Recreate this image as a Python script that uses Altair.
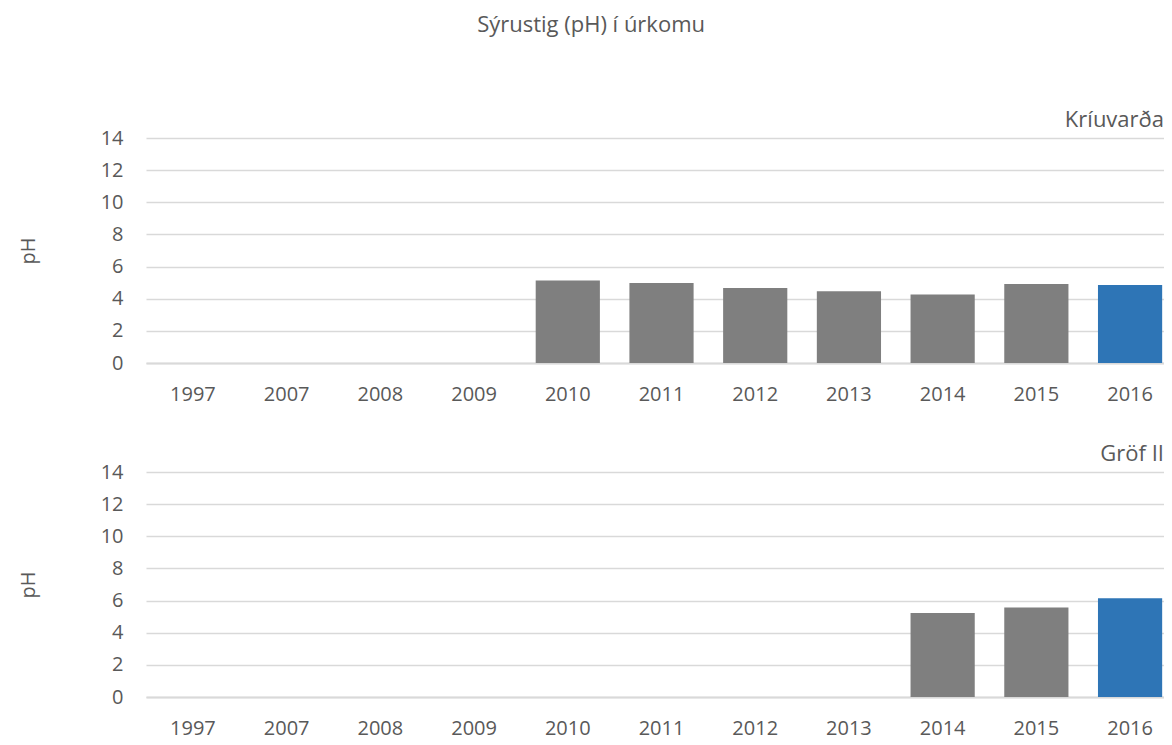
import altair as alt
import pandas as pd

years = ["1997", "2007", "2008", "2009", "2010", "2011", "2012", "2013", "2014", "2015", "2016"]
kriuvarda_ph = [None, None, None, None, 5.13, 4.98, 4.67, 4.46, 4.27, 4.92, 4.86]
grof_ph = [None, None, None, None, None, None, None, None, 5.22, 5.57, 6.14]
stations = ["Kríuvarða", "Gröf II"]
main_title = "Sýrustig (pH) í úrkomu"
y_ticks = [0, 2, 4, 6, 8, 10, 12, 14]

GRAY = "#7f7f7f"
BLUE = "#2e75b6"
TEXT = "#595959"
FONT = "Open Sans"


def panel(name, vals):
    df = pd.DataFrame({
        "year": years,
        "ph": vals,
        "col": [BLUE if y == "2016" else GRAY for y in years],
    })
    return (
        alt.Chart(
            df,
            title=alt.TitleParams(
                name, anchor="end", fontSize=22, color=TEXT, font=FONT,
                fontWeight="normal", offset=-4,
            ),
        )
        .mark_bar()
        .encode(
            x=alt.X(
                "year:N",
                sort=years,
                scale=alt.Scale(domain=years, paddingInner=0.315, paddingOuter=0.089, align=0.89),
                axis=alt.Axis(
                    title=None, labelAngle=0, ticks=False, tickSize=0, labelPadding=21,
                    domain=True, domainColor="#d9d9d9", domainWidth=2,
                    labelFontSize=20, labelColor=TEXT, labelFont=FONT, grid=False,
                ),
            ),
            y=alt.Y(
                "ph:Q",
                scale=alt.Scale(domain=[0, 14], nice=False),
                axis=alt.Axis(
                    values=y_ticks, title="pH", titleFontSize=20, titleColor=TEXT,
                    titleFont=FONT, titleFontWeight="normal", titlePadding=62,
                    ticks=False, tickSize=0, labelPadding=23, domain=False,
                    labelFontSize=20, labelColor=TEXT, labelFont=FONT,
                    grid=True, gridColor="#d9d9d9", gridWidth=1.3,
                ),
            ),
            color=alt.Color("col:N", scale=None),
        )
        .properties(width=1018, height=225)
    )


chart = (
    alt.vconcat(panel(stations[0], kriuvarda_ph), panel(stations[1], grof_ph), spacing=39)
    .properties(
        title=alt.TitleParams(
            main_title, anchor="middle", fontSize=22, color=TEXT, font=FONT,
            fontWeight="normal", offset=72,
        ),
        padding={"left": 10, "top": 6, "right": 0, "bottom": 0},
    )
    .configure_view(stroke=None)
)

chart.save("out.html", embed_options={"renderer": "svg", "actions": False})
